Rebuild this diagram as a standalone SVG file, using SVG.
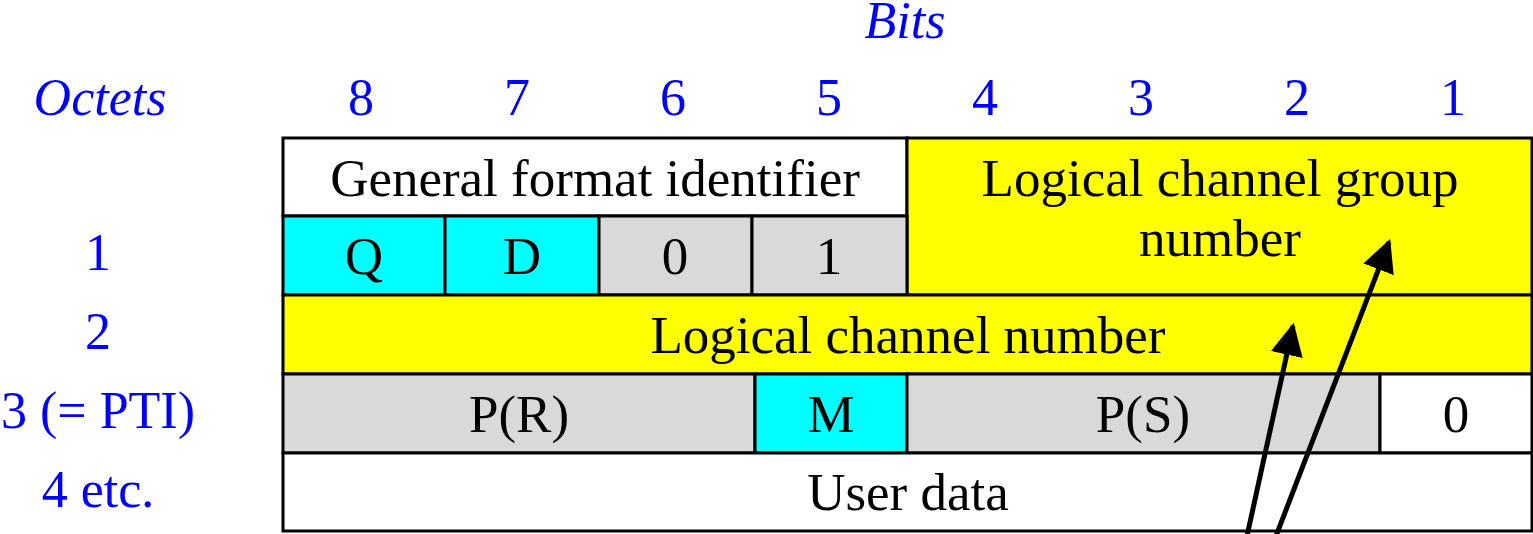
<svg xmlns="http://www.w3.org/2000/svg" width="1533" height="534" viewBox="0 0 1533 534">
<defs>
<style>
.lbl{font-family:"Liberation Serif","Times New Roman",serif;font-size:52px;fill:#0000FF;text-anchor:middle}
.it{font-style:italic}
.cell{stroke:#000;stroke-width:3}
.txt{font-family:"Liberation Serif","Times New Roman",serif;font-size:53px;fill:#000;text-anchor:middle}
.w{fill:#FFFFFF}.y{fill:#FFFF00}.c{fill:#00FFFF}.g{fill:#D9D9D9}
.arr{stroke:#000;stroke-width:5;fill:none}
</style>
<marker id="ah" viewBox="0 0 10 10" refX="9" refY="5" markerWidth="6.5" markerHeight="6.5" markerUnits="strokeWidth" orient="auto">
<path d="M0,0 L10,5 L0,10 z" fill="#000"/>
</marker>
</defs>
<g id="headers">
<text class="lbl it" x="905" y="38">Bits</text>
<text class="lbl it" x="100" y="115">Octets</text>
<text class="lbl" x="361" y="115">8</text>
<text class="lbl" x="517" y="115">7</text>
<text class="lbl" x="673" y="115">6</text>
<text class="lbl" x="829" y="115">5</text>
<text class="lbl" x="985" y="115">4</text>
<text class="lbl" x="1141" y="115">3</text>
<text class="lbl" x="1297" y="115">2</text>
<text class="lbl" x="1453" y="115">1</text>
<text class="lbl" x="98" y="270">1</text>
<text class="lbl" x="98" y="349">2</text>
<text class="lbl" x="98" y="428">3 (= PTI)</text>
<text class="lbl" x="98" y="507">4 etc.</text>
</g>
<g id="gfi"><rect class="cell w" x="283" y="138" width="624" height="78"/><text class="txt" x="595" y="196">General format identifier</text></g>
<g id="lcgn"><rect class="cell y" x="907" y="138" width="625" height="157"/><text class="txt" x="1220" y="196">Logical channel group</text><text class="txt" x="1220" y="256">number</text></g>
<g id="q"><rect class="cell c" x="283" y="216" width="162" height="79"/><text class="txt" x="364" y="274">Q</text></g>
<g id="d"><rect class="cell c" x="445" y="216" width="154" height="79"/><text class="txt" x="522" y="274">D</text></g>
<g id="b0"><rect class="cell g" x="599" y="216" width="153" height="79"/><text class="txt" x="675" y="274">0</text></g>
<g id="b1"><rect class="cell g" x="752" y="216" width="155" height="79"/><text class="txt" x="829" y="274">1</text></g>
<g id="lcn"><rect class="cell y" x="283" y="295" width="1249" height="79"/><text class="txt" x="908" y="353">Logical channel number</text></g>
<g id="pr"><rect class="cell g" x="283" y="374" width="472" height="79"/><text class="txt" x="519" y="432">P(R)</text></g>
<g id="m"><rect class="cell c" x="755" y="374" width="152" height="79"/><text class="txt" x="831" y="432">M</text></g>
<g id="ps"><rect class="cell g" x="907" y="374" width="473" height="79"/><text class="txt" x="1143" y="432">P(S)</text></g>
<g id="z"><rect class="cell w" x="1380" y="374" width="152" height="79"/><text class="txt" x="1456" y="432">0</text></g>
<g id="ud"><rect class="cell w" x="283" y="453" width="1249" height="78"/><text class="txt" x="908" y="510">User data</text></g>
<g id="connectors">
<line class="arr" x1="1247" y1="536" x2="1293" y2="326" marker-end="url(#ah)"/>
<line class="arr" x1="1276" y1="536" x2="1389" y2="242" marker-end="url(#ah)"/>
</g>
</svg>
